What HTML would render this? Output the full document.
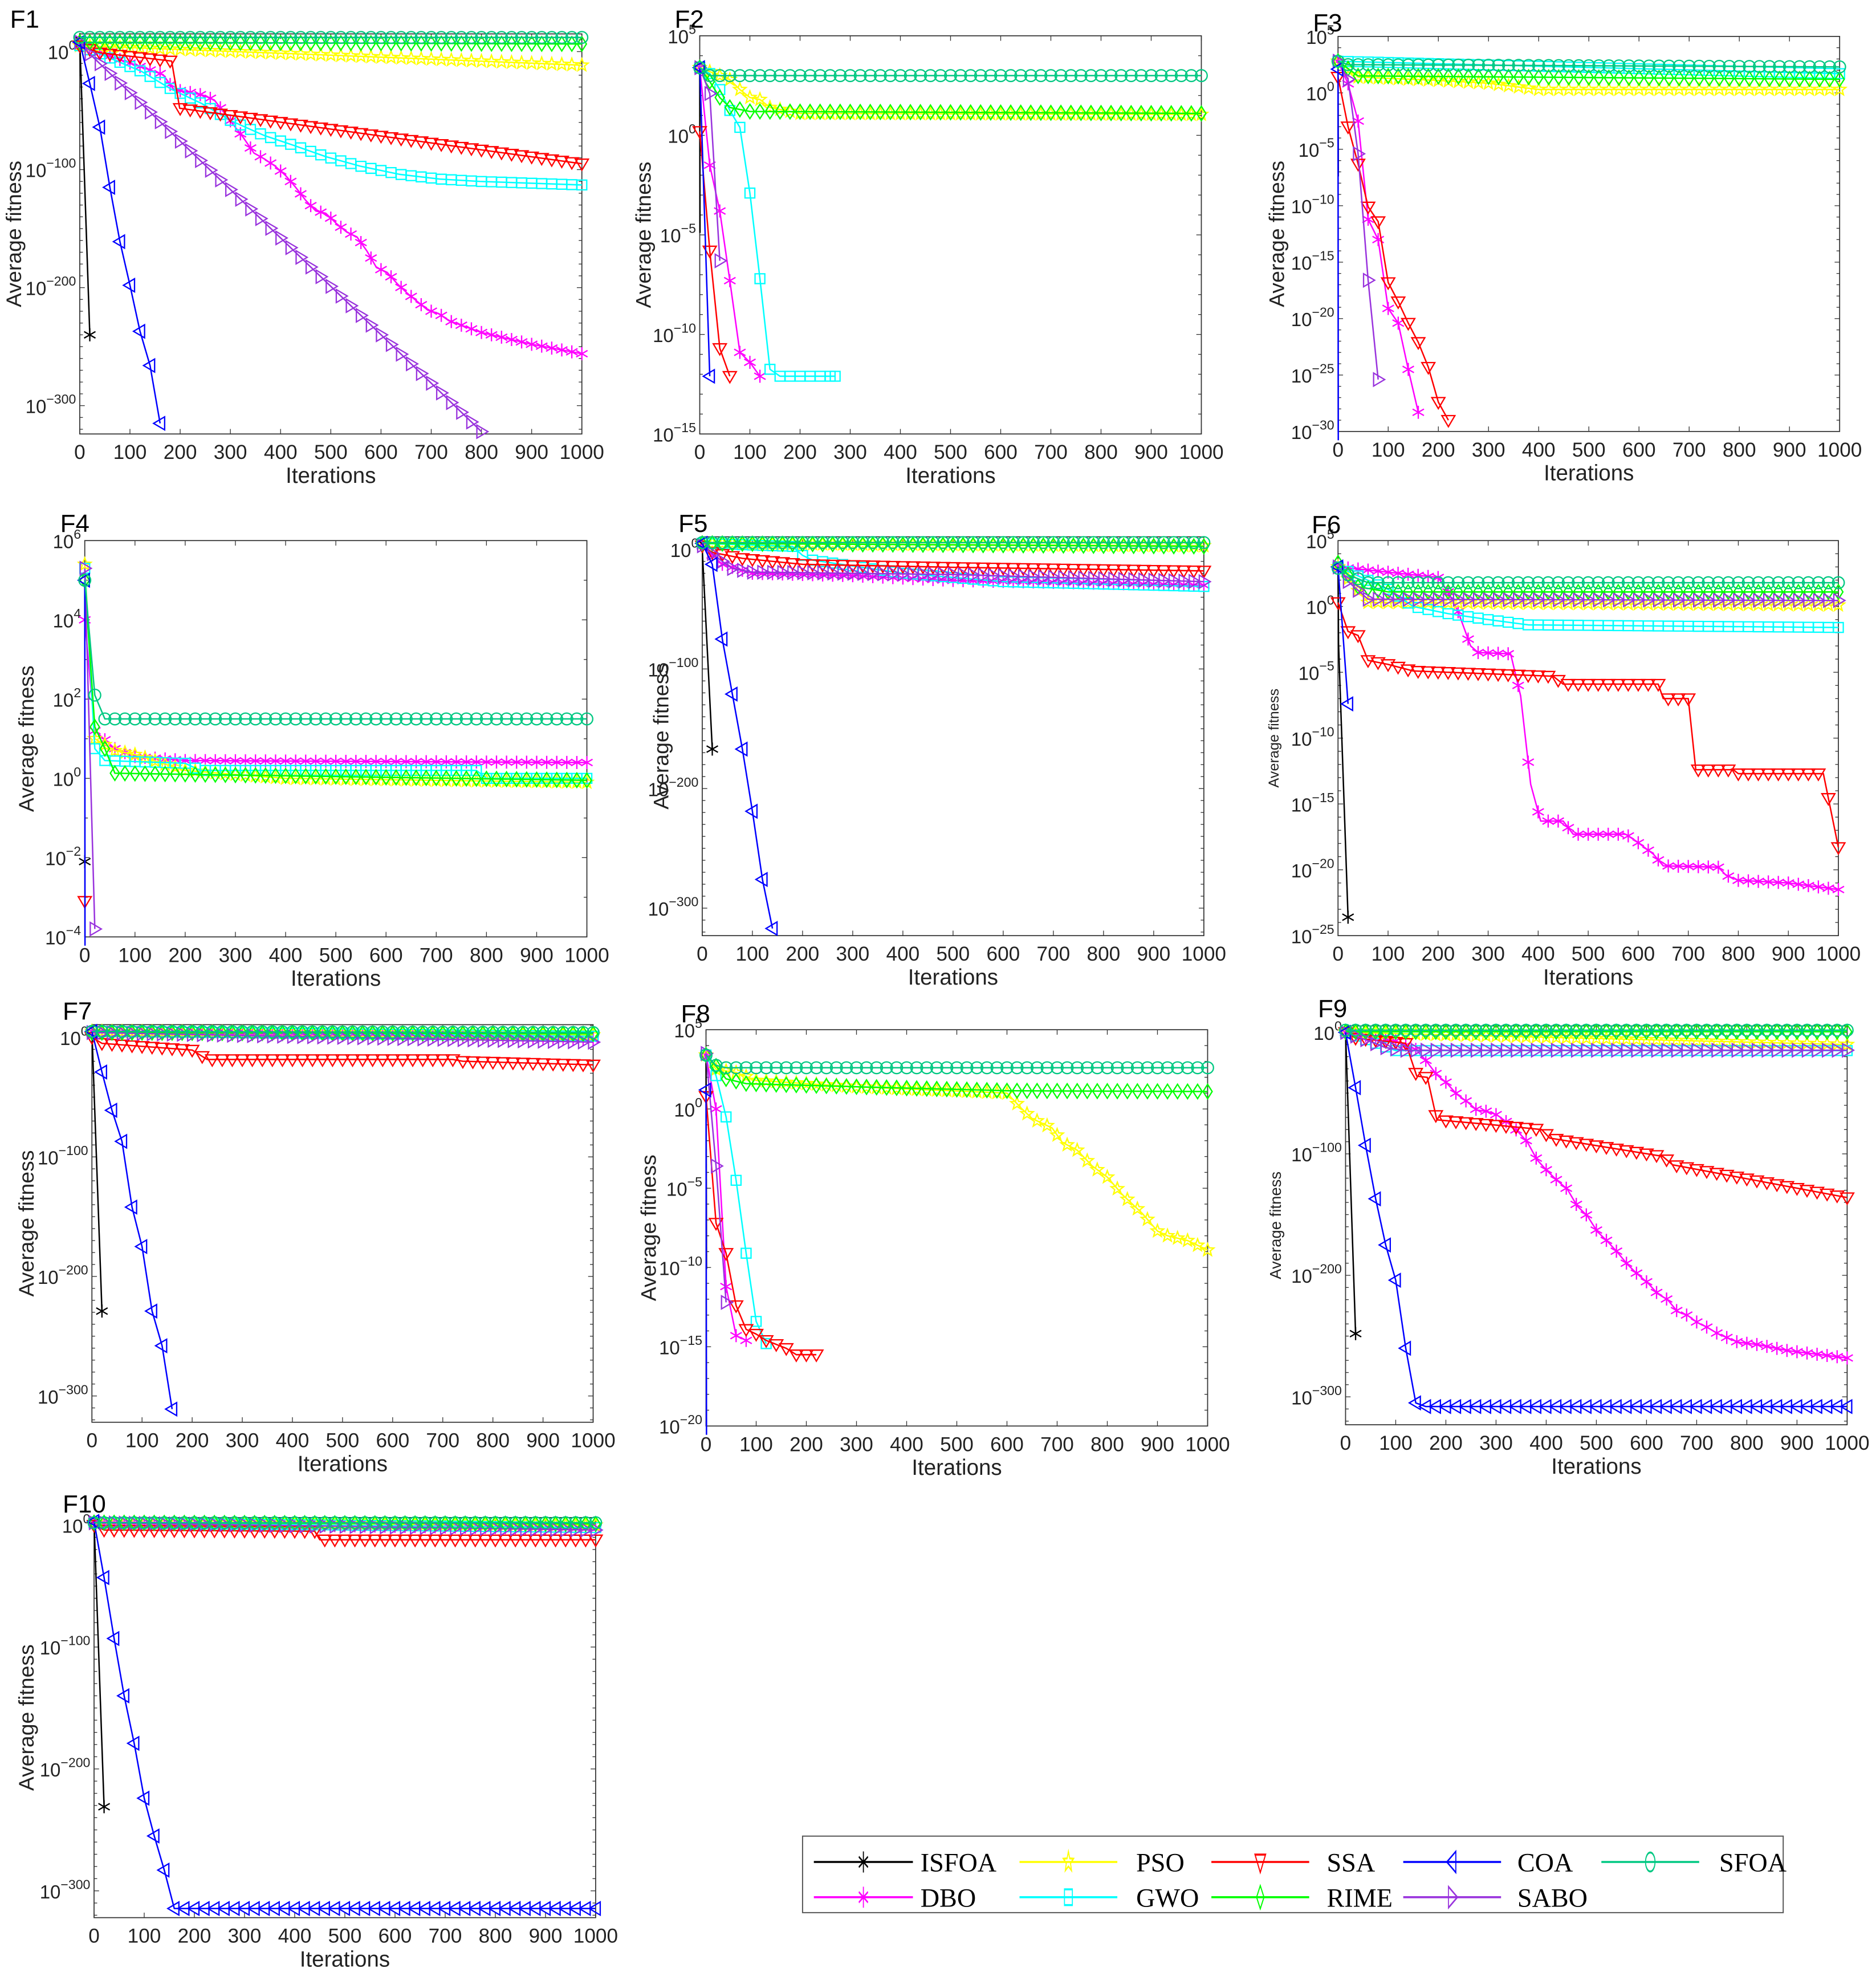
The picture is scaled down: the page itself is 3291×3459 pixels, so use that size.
<!DOCTYPE html>
<html><head><meta charset="utf-8"><title>Convergence curves F1-F10</title>
<style>html,body{margin:0;padding:0;background:#fff}svg{display:block}</style></head>
<body>
<svg id="chart" xmlns="http://www.w3.org/2000/svg" width="3291" height="3459" viewBox="0 0 1496 1572.3" font-family="Liberation Sans, sans-serif">
<rect x="0" y="0" width="1496" height="1572.3" fill="#fff"/>
<g id="panels"></g>
<g id="legend"></g>
</svg>
<script>
// ---- data: [iteration, log10(average fitness)] ----
const algos = ['ISFOA','DBO','PSO','GWO','SSA','RIME','COA','SABO','SFOA'];
const xTicks = [0,100,200,300,400,500,600,700,800,900,1000];
const yTicksBig = [0,-100,-200,-300];
const yTicksF2 = [5,0,-5,-10,-15];
const yTicksF3 = [5,0,-5,-10,-15,-20,-25,-30];
const yTicksF4 = [6,4,2,0,-2,-4];
const yTicksF6 = [5,0,-5,-10,-15,-20,-25];
const yTicksF8 = [5,0,-5,-10,-15,-20];

const f1ISFOA=[[0,10],[20,-240]];
const f1DBO=[[0,5],[143,-16],[166,-19.5],[187,-32],[225,-35],[246,-37],[268,-41],[326,-73],[347,-86],[368,-91],[389,-97],[410,-105],[430,-115],[450,-126],[470,-135],[490,-137],[512,-146],[532,-153],[552,-157],[572,-169],[591,-183],[612,-187],[633,-197],[653,-205],[673,-212],[693,-219],[715,-222],[735,-228],[800,-238],[900,-248],[1000,-256]];
const f1PSO=[[0,5],[500,-3],[1000,-11.5]];
const f1GWO=[[0,5],[52,-4],[124,-17],[183,-32],[243,-44],[303,-59],[367,-71],[430,-80],[490,-89],[558,-97],[637,-104],[717,-108],[797,-110],[1000,-113]];
const f1SSA=[[0,5],[40,-1],[183,-8],[199,-48],[1000,-95]];
const f1RIME=[[0,8],[1000,6.5]];
const f1COA=[[0,8],[20,-27],[40,-64],[60,-115],[80,-161],[100,-198],[120,-237],[140,-266],[160,-315]];
const f1SABO=[[0,8],[20,-2],[800,-322]];
const f1SFOA=[[0,12],[1000,12]];

const f2ISFOA=[[0,3.4],[0.5,-4.9]];
const f2DBO=[[0,3.4],[20,-1.5],[40,-3.8],[60,-7.3],[80,-10.9],[100,-11.4],[120,-12.1]];
const f2PSO=[[0,3.4],[60,2.8],[80,2.3],[100,1.9],[120,1.8],[140,1.4],[200,1.1],[1000,1.05]];
const f2GWO=[[0,3.4],[20,3.1],[40,2.3],[60,1.25],[80,0.4],[100,-2.9],[120,-7.2],[140,-11.75],[160,-12.1],[270,-12.1]];
const f2SSA=[[0,0.2],[20,-5.8],[40,-10.7],[60,-12.1]];
const f2RIME=[[0,3.4],[20,2.7],[40,1.9],[60,1.4],[100,1.2],[1000,1.1]];
const f2COA=[[0,3.4],[20,-12.1]];
const f2SABO=[[0,3.4],[20,2.1],[40,-6.3]];
const f2SFOA=[[0,3.4],[20,3],[1000,3]];

const f3ISFOA=[[0,2.8],[0.5,-7.4]];
const f3DBO=[[0,2.8],[20,0.8],[40,-2.5],[60,-11.2],[80,-13],[100,-19.1],[120,-20.4],[140,-24.5],[160,-28.3]];
const f3PSO=[[0,2.8],[40,1.4],[200,1.1],[300,0.85],[400,0.3],[1000,0.3]];
const f3GWO=[[0,2.8],[1000,1.7]];
const f3SSA=[[0,1.4],[20,-3],[40,-6.3],[60,-10.1],[80,-11.4],[100,-16.8],[120,-18.5],[140,-20.4],[160,-22.1],[180,-24.3],[200,-27.4],[220,-29]];
const f3RIME=[[0,2.8],[40,1.5],[1000,1.2]];
const f3COA=[[0,2.1],[0.5,-31]];
const f3SABO=[[0,2.8],[20,1.2],[40,-5.4],[60,-16.6],[80,-25.4]];
const f3SFOA=[[0,2.8],[20,2.5],[1000,2.3]];

const f4ISFOA=[[0,-2.1]];
const f4DBO=[[0,4],[20,1.2],[60,0.75],[100,0.55],[200,0.45],[1000,0.4]];
const f4PSO=[[0,5.4],[20,1],[60,0.7],[100,0.6],[200,0.2],[400,0],[1000,-0.1]];
const f4GWO=[[0,5.3],[20,0.75],[40,0.45],[200,0.38],[230,0.2],[780,0.2],[800,0],[1000,0]];
const f4SSA=[[0,-3.1]];
const f4RIME=[[0,5],[20,1.3],[40,0.75],[60,0.13],[1000,-0.05]];
const f4COA=[[0,5],[0.5,-5]];
const f4SABO=[[0,5.3],[20,-3.8]];
const f4SFOA=[[0,5],[20,2.1],[40,1.5],[1000,1.5]];

const f5ISFOA=[[0,5],[0.5,-4],[20,-167]];
const f5DBO=[[0,3],[40,-12.5],[100,-20],[300,-22],[500,-26],[1000,-30]];
const f5PSO=[[0,5],[1000,3]];
const f5GWO=[[0,5],[180,2.5],[200,-5],[220,-9],[400,-20],[600,-27],[1000,-31]];
const f5SSA=[[0,3],[20,-2.5],[80,-7.5],[200,-12.5],[500,-15],[1000,-18]];
const f5RIME=[[0,5],[1000,2.5]];
const f5COA=[[0,5],[20,-12.5],[40,-75],[60,-121],[80,-167],[100,-219],[120,-276],[140,-317]];
const f5SABO=[[0,3],[40,-10],[60,-16],[100,-19],[500,-21],[1000,-27]];
const f5SFOA=[[0,5.7],[1000,5.7]];

const f6ISFOA=[[0,3],[1,-2.8],[20,-23.6]];
const f6DBO=[[0,3],[200,2.2],[220,1.1],[240,-0.4],[265,-3],[280,-3.5],[345,-3.6],[365,-6.8],[385,-13.5],[405,-16.3],[450,-16.3],[470,-17.3],[575,-17.3],[595,-17.8],[630,-18.8],[650,-19.7],[760,-19.8],[775,-20.4],[800,-20.8],[900,-21],[1000,-21.5]];
const f6PSO=[[0,3],[60,0.3],[1000,0.1]];
const f6GWO=[[0,3],[100,1.3],[150,0],[220,-0.55],[300,-1],[380,-1.4],[1000,-1.6]];
const f6SSA=[[0,0.3],[20,-1.9],[40,-2.2],[60,-4.1],[100,-4.4],[150,-4.9],[430,-5.3],[450,-5.9],[640,-5.9],[650,-7],[700,-7],[715,-12.4],[790,-12.4],[800,-12.7],[970,-12.7],[1000,-18.3]];
const f6RIME=[[0,3.3],[40,1.5],[100,1.1],[1000,1.1]];
const f6COA=[[0,3],[20,-7.4]];
const f6SABO=[[0,3],[20,1.9],[60,0.55],[1000,0.45]];
const f6SFOA=[[0,2.9],[20,2.4],[60,1.8],[1000,1.8]];

const f7ISFOA=[[0,5],[20,-229]];
const f7DBO=[[0,5],[1000,-2]];
const f7PSO=[[0,5],[1000,2]];
const f7GWO=[[0,5],[1000,1]];
const f7SSA=[[0,0],[20,-5],[200,-10.6],[230,-18.5],[720,-18.5],[740,-20],[1000,-23]];
const f7RIME=[[0,4],[1000,3]];
const f7COA=[[0,5],[20,-29],[40,-61],[60,-87],[80,-142],[100,-175],[120,-229],[140,-258],[160,-311]];
const f7SABO=[[0,4],[1000,-4]];
const f7SFOA=[[0,5],[1000,4]];

const f8ISFOA=[[0,3.4],[1,-10.1]];
const f8DBO=[[0,3.4],[20,0],[40,-11.2],[60,-14.3],[80,-14.6]];
const f8PSO=[[0,3.4],[20,2.5],[60,2.3],[100,1.8],[300,1.4],[450,1.2],[600,1],[630,0],[650,-0.6],[690,-1.2],[710,-2.1],[740,-2.6],[770,-3.6],[800,-4.3],[830,-5.4],[870,-6.6],[900,-7.7],[920,-8],[960,-8.3],[1000,-8.9]];
const f8GWO=[[0,3.4],[20,2.1],[40,-0.5],[60,-4.5],[80,-9.1],[100,-13.4],[120,-14.8]];
const f8SSA=[[0,0.8],[20,-7.2],[40,-9.1],[60,-12.4],[80,-13.9],[100,-14.2],[120,-14.6],[160,-15.1],[180,-15.5],[220,-15.5]];
const f8RIME=[[0,3.4],[20,2.7],[40,1.9],[80,1.6],[300,1.4],[600,1.15],[1000,1.1]];
const f8COA=[[0,1.2],[1,-21]];
const f8SABO=[[0,3.5],[20,-3.6],[40,-12.2]];
const f8SFOA=[[0,3.4],[20,2.75],[40,2.6],[1000,2.6]];

const f9ISFOA=[[0,0],[20,-248]];
const f9DBO=[[0,0],[100,-7],[140,-14],[160,-23],[182,-35],[200,-41],[222,-51],[242,-57],[262,-64],[282,-65],[302,-68],[322,-74],[342,-81],[362,-90],[382,-105],[402,-114],[422,-122],[442,-129],[462,-143],[482,-151],[502,-164],[522,-172],[542,-181],[562,-191],[582,-199],[602,-206],[622,-215],[642,-220],[662,-230],[682,-233],[702,-239],[722,-243],[742,-248],[782,-255],[822,-257],[882,-262],[1000,-268]];
const f9PSO=[[0,0],[500,-5],[1000,-10]];
const f9GWO=[[0,0],[100,-15],[1000,-15]];
const f9SSA=[[0,0],[20,-4.7],[120,-9],[142,-36],[163,-37],[182,-72],[292,-76],[391,-80],[407,-87],[632,-102],[652,-109],[1000,-136]];
const f9RIME=[[0,0.5],[1000,0.5]];
const f9COA=[[0,0],[20,-45.5],[40,-93],[60,-137],[80,-175],[100,-204],[120,-260],[140,-305],[160,-308],[1000,-308]];
const f9SABO=[[0,0],[40,-6],[80,-12.6],[120,-14.7],[1000,-14.7]];
const f9SFOA=[[0,1.8],[1000,1.8]];

const f10ISFOA=[[0,3],[20,-231]];
const f10DBO=[[0,2],[1000,-3]];
const f10PSO=[[0,2],[1000,0]];
const f10GWO=[[0,2],[1000,-2]];
const f10SSA=[[0,0],[20,-4],[440,-5],[450,-12],[1000,-12]];
const f10RIME=[[0,2],[1000,1]];
const f10COA=[[0,3],[20,-43],[40,-93],[60,-140],[80,-179],[100,-224],[120,-255],[140,-283],[160,-314.5],[1000,-314.5]];
const f10SABO=[[0,2],[1000,-4]];
const f10SFOA=[[0,2],[1000,2]];

// ---- styles ----
const COLORS={ISFOA:'#000000',DBO:'#ff00ff',PSO:'#ffff00',GWO:'#00ffff',SSA:'#ff0000',RIME:'#00ff00',COA:'#0000ff',SABO:'#9933dd',SFOA:'#00c882'};
const MARK={ISFOA:'ast',DBO:'ast',PSO:'star',GWO:'sq',SSA:'tdown',RIME:'dia',COA:'tleft',SABO:'tright',SFOA:'circ'};
const drawOrder=['ISFOA','DBO','PSO','GWO','SSA','RIME','SABO','COA','SFOA'];

const panels=[
 {id:'F1',x0:63.6,x1:464,y0:27,y1:346,ymax:15,ymin:-324,ticks:yTicksBig,minor:10,tx:8,ty:22,lx:11,ls:17,
  s:{ISFOA:f1ISFOA,DBO:f1DBO,PSO:f1PSO,GWO:f1GWO,SSA:f1SSA,RIME:f1RIME,COA:f1COA,SABO:f1SABO,SFOA:f1SFOA}},
 {id:'F2',x0:558,x1:958,y0:28.5,y1:346,ymax:5,ymin:-15,ticks:yTicksF2,minor:1,tx:538,ty:22,lx:513,ls:17,
  s:{ISFOA:f2ISFOA,DBO:f2DBO,PSO:f2PSO,GWO:f2GWO,SSA:f2SSA,RIME:f2RIME,COA:f2COA,SABO:f2SABO,SFOA:f2SFOA}},
 {id:'F3',x0:1067,x1:1467,y0:29,y1:344,ymax:5,ymin:-30,ticks:yTicksF3,minor:1,tx:1047,ty:25,lx:1018,ls:17,
  s:{ISFOA:f3ISFOA,DBO:f3DBO,PSO:f3PSO,GWO:f3GWO,SSA:f3SSA,RIME:f3RIME,COA:f3COA,SABO:f3SABO,SFOA:f3SFOA}},
 {id:'F4',x0:67.6,x1:468,y0:431,y1:747,ymax:6,ymin:-4,ticks:yTicksF4,minor:1,tx:48,ty:424,lx:21,ls:17,
  s:{ISFOA:f4ISFOA,DBO:f4DBO,PSO:f4PSO,GWO:f4GWO,SSA:f4SSA,RIME:f4RIME,COA:f4COA,SABO:f4SABO,SFOA:f4SFOA}},
 {id:'F5',x0:560,x1:960,y0:428,y1:746,ymax:10.5,ymin:-323,ticks:yTicksBig,minor:10,tx:541,ty:424,lx:527,ls:17,
  s:{ISFOA:f5ISFOA,DBO:f5DBO,PSO:f5PSO,GWO:f5GWO,SSA:f5SSA,RIME:f5RIME,COA:f5COA,SABO:f5SABO,SFOA:f5SFOA}},
 {id:'F6',x0:1067,x1:1466,y0:431,y1:746,ymax:5,ymin:-25,ticks:yTicksF6,minor:1,tx:1046,ty:425,lx:1016,ls:11.5,
  s:{ISFOA:f6ISFOA,DBO:f6DBO,PSO:f6PSO,GWO:f6GWO,SSA:f6SSA,RIME:f6RIME,COA:f6COA,SABO:f6SABO,SFOA:f6SFOA}},
 {id:'F7',x0:73.3,x1:473,y0:817,y1:1134,ymax:10.6,ymin:-322,ticks:yTicksBig,minor:10,tx:50,ty:813,lx:21,ls:17,
  s:{ISFOA:f7ISFOA,DBO:f7DBO,PSO:f7PSO,GWO:f7GWO,SSA:f7SSA,RIME:f7RIME,COA:f7COA,SABO:f7SABO,SFOA:f7SFOA}},
 {id:'F8',x0:563,x1:963,y0:821,y1:1137,ymax:5,ymin:-20,ticks:yTicksF8,minor:1,tx:543,ty:815,lx:517,ls:17,
  s:{ISFOA:f8ISFOA,DBO:f8DBO,PSO:f8PSO,GWO:f8GWO,SSA:f8SSA,RIME:f8RIME,COA:f8COA,SABO:f8SABO,SFOA:f8SFOA}},
 {id:'F9',x0:1073,x1:1473,y0:818,y1:1136,ymax:5.3,ymin:-323,ticks:yTicksBig,minor:10,tx:1051,ty:811,lx:1017,ls:12.5,
  s:{ISFOA:f9ISFOA,DBO:f9DBO,PSO:f9PSO,GWO:f9GWO,SSA:f9SSA,RIME:f9RIME,COA:f9COA,SABO:f9SABO,SFOA:f9SFOA}},
 {id:'F10',x0:75,x1:475,y0:1210,y1:1529,ymax:6.2,ymin:-322,ticks:yTicksBig,minor:10,tx:50,ty:1206,lx:21,ls:17,
  s:{ISFOA:f10ISFOA,DBO:f10DBO,PSO:f10PSO,GWO:f10GWO,SSA:f10SSA,RIME:f10RIME,COA:f10COA,SABO:f10SABO,SFOA:f10SFOA}}
];

const NS='http://www.w3.org/2000/svg';
function mk(tag,attrs,parent){const e=document.createElementNS(NS,tag);for(const k in attrs)e.setAttribute(k,attrs[k]);if(parent)parent.appendChild(e);return e;}

function marker(g,type,cx,cy,color,r,sw){
  let e;sw=sw||1.0;
  if(type==='ast'){
    e=mk('path',{d:`M${cx},${cy-r}L${cx},${cy+r}M${cx-r*0.87},${cy-r*0.5}L${cx+r*0.87},${cy+r*0.5}M${cx-r*0.87},${cy+r*0.5}L${cx+r*0.87},${cy-r*0.5}`,stroke:color,'stroke-width':sw,fill:'none'},g);
  }else if(type==='circ'){
    e=mk('circle',{cx:cx,cy:cy,r:r*0.9,stroke:color,'stroke-width':sw,fill:'none'},g);
  }else{
    let pts;
    if(type==='sq'){const a=r*0.75;pts=[[-a,-a],[a,-a],[a,a],[-a,a]];}
    else if(type==='tdown')pts=[[-r,-r*0.7],[r,-r*0.7],[0,r]];
    else if(type==='tleft')pts=[[r*0.7,-r],[r*0.7,r],[-r,0]];
    else if(type==='tright')pts=[[-r*0.7,-r],[-r*0.7,r],[r,0]];
    else if(type==='dia')pts=[[0,-r*1.1],[r*0.7,0],[0,r*1.1],[-r*0.7,0]];
    else if(type==='star'){pts=[];for(let i=0;i<10;i++){const ang=-Math.PI/2+i*Math.PI/5;const rr=i%2?r*0.42:r;pts.push([rr*Math.cos(ang),rr*Math.sin(ang)]);}}
    e=mk('polygon',{points:pts.map(p=>(cx+p[0]).toFixed(2)+','+(cy+p[1]).toFixed(2)).join(' '),stroke:color,'stroke-width':sw,fill:'none'},g);
  }
  return e;
}

function interp(data,it){
  for(let i=0;i<data.length-1;i++){
    const a=data[i],b=data[i+1];
    if(it>=a[0]&&it<=b[0]){const t=b[0]===a[0]?0:(it-a[0])/(b[0]-a[0]);return a[1]+t*(b[1]-a[1]);}
  }
  return data[data.length-1][1];
}

const root=document.getElementById('panels');
panels.forEach(p=>{
  const X=i=>p.x0+(p.x1-p.x0)*i/1000;
  const Y=v=>p.y0+(p.ymax-v)/(p.ymax-p.ymin)*(p.y1-p.y0);
  const g=mk('g',{},root);
  
  
  const cid='clip'+p.id;
  const cp=mk('clipPath',{id:cid},g);
  mk('rect',{x:p.x0-7,y:p.y0-7,width:p.x1-p.x0+14,height:p.y1-p.y0+14},cp);
  const box=mk('rect',{x:p.x0,y:p.y0,width:p.x1-p.x0,height:p.y1-p.y0,fill:'none',stroke:'#333','stroke-width':0.8},g);
  
  
  const tk=mk('g',{stroke:'#333','stroke-width':0.6},g);
  
  
  for(let v=Math.floor(p.ymax);v>=p.ymin;v-=1){
    if(v%p.minor!==0)continue;
    const y=Y(v);const major=p.ticks.indexOf(v)>=0;const L=major?4:2.5;
    mk('line',{x1:p.x0,y1:y,x2:p.x0+L,y2:y},tk);
    mk('line',{x1:p.x1,y1:y,x2:p.x1-L,y2:y},tk);
  }
  xTicks.forEach(t=>{const x=X(t);mk('line',{x1:x,y1:p.y1,x2:x,y2:p.y1-4},tk);mk('line',{x1:x,y1:p.y0,x2:x,y2:p.y0+4},tk);});
  p.ticks.forEach(v=>{
    const t=mk('text',{x:p.x0-3,y:Y(v)+6,'text-anchor':'end','font-size':15,fill:'#222'},g);
    
    
    const a=mk('tspan',{},t);a.textContent='10';
    const b=mk('tspan',{dy:-7.5,'font-size':10.5},t);b.textContent=String(v).replace('-','\u2212');
  });
  xTicks.forEach(v=>{
    const t=mk('text',{x:X(v),y:p.y1+20,'text-anchor':'middle','font-size':16,fill:'#222'},g);
    
    
    t.textContent=String(v);
  });
  const xl=mk('text',{x:(p.x0+p.x1)/2,y:p.y1+39,'text-anchor':'middle','font-size':17.5,fill:'#222'},g);
  
  
  xl.textContent='Iterations';
  const cy=(p.y0+p.y1)/2;
  const yl=mk('text',{x:p.lx,y:cy,'text-anchor':'middle','dominant-baseline':'central','font-size':p.ls,fill:'#222',transform:`rotate(-90 ${p.lx} ${cy})`},g);
  
  
  yl.textContent='Average fitness';
  const ti=mk('text',{x:p.tx,y:p.ty,'font-size':20,fill:'#000'},g);
  
  
  ti.textContent=p.id;
  const sg=mk('g',{'clip-path':`url(#${cid})`},g);
  drawOrder.forEach(name=>{
    const data=p.s[name];if(!data)return;
    const c=COLORS[name];
    const ser=mk('g',{},sg);
    
    
    if(data.length>1){
      mk('polyline',{points:data.map(d=>X(d[0]).toFixed(2)+','+Y(d[1]).toFixed(2)).join(' '),fill:'none',stroke:c,'stroke-width':1.15,'stroke-linejoin':'round'},ser);
    }
    const first=data[0][0],last=data[data.length-1][0];
    const its=[];
    for(let it=0;it<=last+1e-9;it+=20){if(it>=first)its.push(it);}
    if(its.length===0||Math.abs(its[its.length-1]-last)>3)its.push(last);
    its.forEach(it=>marker(ser,MARK[name],X(it),Y(interp(data,it)),c,5.2,1.05));
  });
});

const lg=document.getElementById('legend');
mk('rect',{x:640,y:1464,width:782,height:61,fill:'#fff',stroke:'#555','stroke-width':0.9},lg);
const legendRows=[['ISFOA','PSO','SSA','COA','SFOA'],['DBO','GWO','RIME','SABO']];
const colLine=[[649,728],[813,891],[966,1044],[1119,1197],[1277,1355]];
const colText=[734,906,1058,1210,1371];
const rowY=[1484.6,1512.7];
legendRows.forEach((row,ri)=>row.forEach((name,ci)=>{
  const e=mk('g',{},lg);
  
  
  const y=rowY[ri],c=COLORS[name];
  mk('line',{x1:colLine[ci][0],y1:y,x2:colLine[ci][1],y2:y,stroke:c,'stroke-width':1.6},e);
  const mg=mk('g',{transform:`translate(${(colLine[ci][0]+colLine[ci][1])/2},${y}) scale(1,2)`},e);
  marker(mg,MARK[name],0,0,c,4.2,0.8);
  const t=mk('text',{x:colText[ci],y:y+7.5,'font-family':'Liberation Serif, serif','font-size':21,fill:'#000'},e);
  t.textContent=name;
}));
</script>
</body></html>
